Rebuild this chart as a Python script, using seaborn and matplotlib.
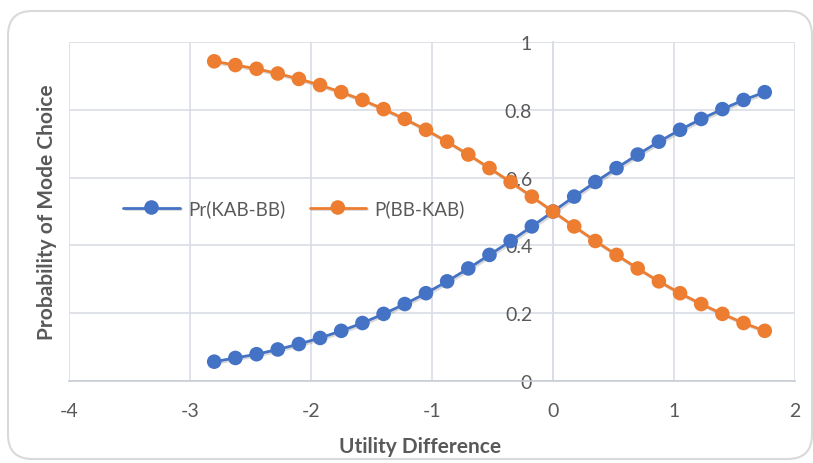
import pandas as pd
import seaborn as sns
import matplotlib.pyplot as plt
import matplotlib.patheffects as pe
import matplotlib.transforms as mtransforms
from matplotlib.patches import FancyBboxPatch

# Utility difference values and the two choice probabilities
utility_diff = [-2.8, -2.625, -2.45, -2.275, -2.1, -1.925, -1.75, -1.575, -1.4,
                -1.225, -1.05, -0.875, -0.7, -0.525, -0.35, -0.175, 0.0, 0.175,
                0.35, 0.525, 0.7, 0.875, 1.05, 1.225, 1.4, 1.575, 1.75]
pr_kab_bb = [0.057, 0.068, 0.079, 0.093, 0.109, 0.127, 0.148, 0.171, 0.198,
             0.227, 0.259, 0.294, 0.332, 0.372, 0.413, 0.456, 0.500, 0.544,
             0.587, 0.628, 0.668, 0.706, 0.741, 0.773, 0.802, 0.829, 0.852]
p_bb_kab = [0.943, 0.932, 0.921, 0.907, 0.891, 0.873, 0.852, 0.829, 0.802,
            0.773, 0.741, 0.706, 0.668, 0.628, 0.587, 0.544, 0.500, 0.456,
            0.413, 0.372, 0.332, 0.294, 0.259, 0.227, 0.198, 0.171, 0.148]
series_names = ["Pr(KAB-BB)", "P(BB-KAB)"]
series_colors = ["#4472C4", "#ED7D31"]
x_ticks = [-4, -3, -2, -1, 0, 1, 2]
y_ticks = [0, 0.2, 0.4, 0.6, 0.8, 1]
y_tick_labels = ["0", "0.2", "0.4", "0.6", "0.8", "1"]

sns.set_theme(style="white")
plt.rcParams["font.family"] = ["Lato", "DejaVu Sans"]

text_color = "#595959"
grid_color = "#d9dde5"

df = pd.DataFrame({
    "Utility Difference": utility_diff * 2,
    "Probability": pr_kab_bb + p_bb_kab,
    "Series": [series_names[0]] * len(utility_diff) + [series_names[1]] * len(utility_diff),
})

fig = plt.figure(figsize=(8.13, 4.64), dpi=100)
ax = fig.add_axes([69 / 813, 1 - 382 / 464, (795 - 69) / 813, (382 - 43) / 464])

# Rounded chart-area border
border = FancyBboxPatch((8 / 813, 4 / 464), (812 - 8) / 813, (452 - 4) / 464,
                        boxstyle="round,pad=0,rounding_size=0.03",
                        transform=fig.transFigure, facecolor="none",
                        edgecolor="#d9d9d9", linewidth=1.5, zorder=0,
                        mutation_aspect=813 / 464)
fig.patches.append(border)

# Soft drop shadow under lines and markers
shadow = [pe.SimpleLineShadow(offset=(1.0, -1.2), shadow_color="black", alpha=0.15),
          pe.Normal()]

sns.lineplot(data=df, x="Utility Difference", y="Probability", hue="Series",
             hue_order=series_names, palette=series_colors, marker="o",
             markersize=10.5, markeredgewidth=0, linewidth=2, ax=ax, zorder=3)
for line in ax.get_lines():
    line.set_path_effects(shadow)

ax.set_xlim(-4, 2)
ax.set_ylim(0, 1)
ax.set_xticks(x_ticks)
ax.set_yticks(y_ticks)
ax.set_xticklabels([str(t) for t in x_ticks])
ax.set_yticklabels(y_tick_labels)
ax.grid(True, color=grid_color, linewidth=1.2, zorder=0)
ax.set_axisbelow(True)

for side in ["top", "right"]:
    ax.spines[side].set_visible(False)
# Vertical axis crosses at x = 0
ax.spines["left"].set_position(("data", 0))
ax.spines["left"].set_color(grid_color)
ax.spines["bottom"].set_color("#c8ccd4")
ax.spines["bottom"].set_linewidth(1.2)

ax.tick_params(axis="both", length=0, labelsize=14, labelcolor=text_color)
ax.tick_params(axis="y", pad=15)
ax.tick_params(axis="x", pad=15)

ax.set_xlabel("Utility Difference", fontsize=15, fontweight="bold",
              color=text_color)
ax.xaxis.label.set_va("center")
ax.xaxis.set_label_coords((420 - 69) / 726, (464 - 447) / 464,
                          transform=mtransforms.blended_transform_factory(ax.transAxes, fig.transFigure))

ax.set_ylabel("Probability of Mode Choice", fontsize=15, fontweight="bold",
              color=text_color)
ax.yaxis.label.set_va("center")
ax.yaxis.set_label_coords(47 / 813, 0.5,
                          transform=mtransforms.blended_transform_factory(fig.transFigure, ax.transAxes))

handles, labels = ax.get_legend_handles_labels()
leg = ax.legend(handles, labels, loc="center", bbox_to_anchor=(0.31, 0.51),
                ncol=2, frameon=False, fontsize=13.5, handlelength=3.0,
                columnspacing=1.3, handletextpad=0.45)
for t in leg.get_texts():
    t.set_color(text_color)

fig.savefig("out.png", dpi=100)
